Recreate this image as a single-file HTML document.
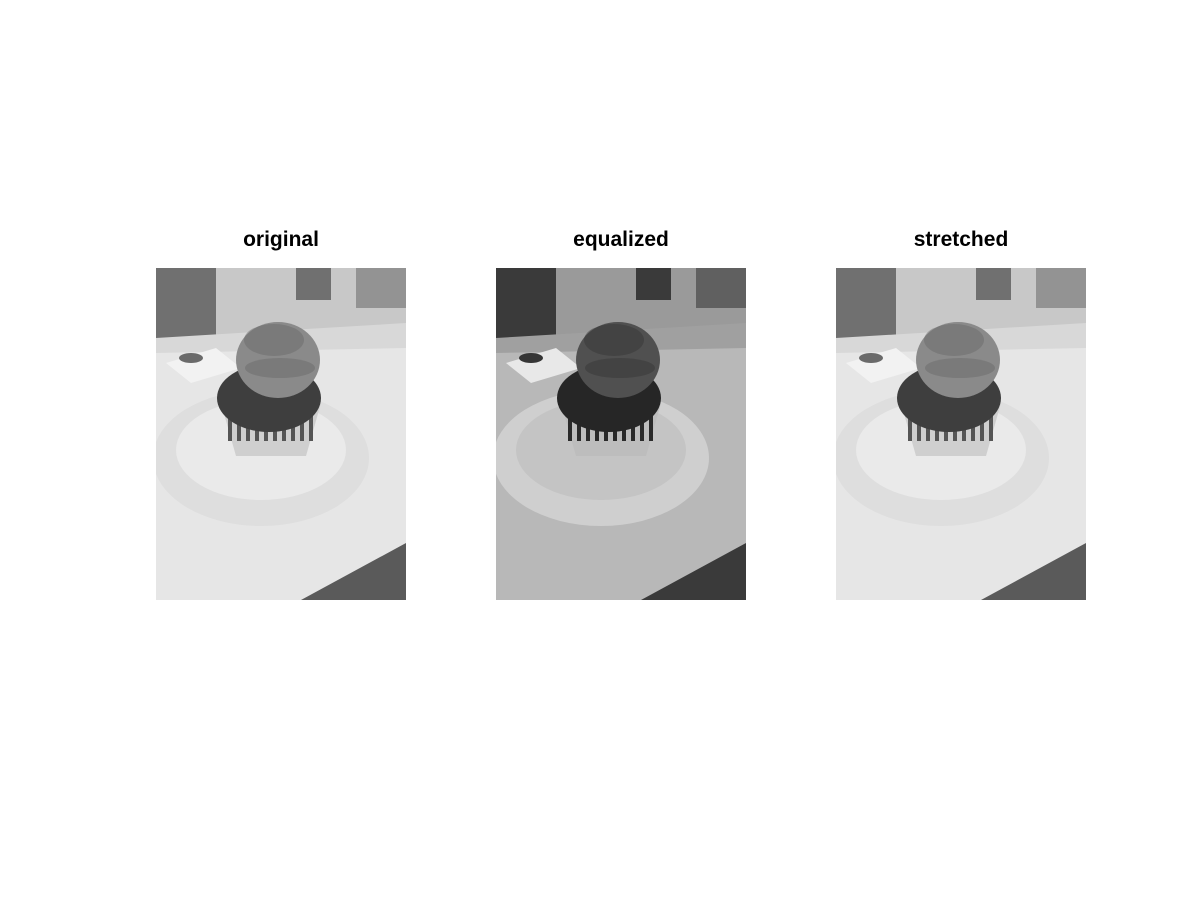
<!DOCTYPE html>
<html><head><meta charset="utf-8"><style>
html,body{margin:0;padding:0;background:#fff;width:1200px;height:900px;overflow:hidden}
.t{position:absolute;top:228px;width:250px;text-align:center;font:bold 21px "Liberation Sans",Arial,sans-serif;color:#000}
svg{position:absolute;top:268px}
</style></head><body>
<div class="t" style="left:156px">original</div>
<div class="t" style="left:496px">equalized</div>
<div class="t" style="left:836px">stretched</div>
<svg id="p1" style="left:156px" width="250" height="332" viewBox="0 0 250 332"></svg>
<svg id="p2" style="left:496px" width="250" height="332" viewBox="0 0 250 332"></svg>
<svg id="p3" style="left:836px" width="250" height="332" viewBox="0 0 250 332"></svg>
<script>
const palNormal={bg:'#c8c8c8',fig:'#707070',tray:'#e6e6e6',trayEdge:'#d8d8d8',plate:'#dedede',plateIn:'#eaeaea',wood:'#5a5a5a',liner:'#cfcfcf',stripe:'#555',cake:'#3e3e3e',frost:'#8a8a8a',frostD:'#6a6a6a',napkin:'#f2f2f2'};
const palEq={bg:'#9a9a9a',fig:'#3a3a3a',tray:'#b8b8b8',trayEdge:'#a0a0a0',plate:'#cfcfcf',plateIn:'#c4c4c4',wood:'#3a3a3a',liner:'#bdbdbd',stripe:'#2a2a2a',cake:'#262626',frost:'#505050',frostD:'#353535',napkin:'#e8e8e8'};
const NS='http://www.w3.org/2000/svg';
function el(svg,tag,attrs){const e=document.createElementNS(NS,tag);for(const k in attrs)e.setAttribute(k,attrs[k]);svg.appendChild(e);return e;}
function draw(id,p){
 const s=document.getElementById(id);
 let e;
 e=el(s,'rect',{x:0,y:0,width:250,height:332,fill:p.tray});
 
 
 e=el(s,'rect',{x:0,y:0,width:250,height:70,fill:p.bg});
 
 
 el(s,'rect',{x:0,y:0,width:60,height:70,fill:p.fig});
 el(s,'rect',{x:140,y:0,width:35,height:32,fill:p.fig});
 el(s,'rect',{x:200,y:0,width:50,height:40,fill:p.fig,opacity:0.6});
 el(s,'polygon',{points:'0,70 250,55 250,80 0,85',fill:p.trayEdge});
 e=el(s,'polygon',{points:'145,332 250,275 250,332',fill:p.wood});
 
 
 e=el(s,'ellipse',{cx:105,cy:190,rx:108,ry:68,fill:p.plate});
 
 
 el(s,'ellipse',{cx:105,cy:182,rx:85,ry:50,fill:p.plateIn});
 e=el(s,'polygon',{points:'10,95 60,80 85,100 35,115',fill:p.napkin});
 
 
 el(s,'ellipse',{cx:35,cy:90,rx:12,ry:5,fill:p.frostD});
 e=el(s,'polygon',{points:'65,135 165,135 150,188 80,188',fill:p.liner});
 
 
 for(let i=0;i<10;i++){el(s,'rect',{x:72+i*9,y:145,width:4,height:28,fill:p.stripe});}
 e=el(s,'ellipse',{cx:113,cy:130,rx:52,ry:34,fill:p.cake});
 
 
 e=el(s,'ellipse',{cx:122,cy:92,rx:42,ry:38,fill:p.frost});
 
 
 el(s,'ellipse',{cx:118,cy:72,rx:30,ry:16,fill:p.frostD,opacity:0.5});
 el(s,'ellipse',{cx:124,cy:100,rx:35,ry:10,fill:p.frostD,opacity:0.5});
}
draw('p1',palNormal);draw('p2',palEq);draw('p3',palNormal);
</script>
</body></html>
